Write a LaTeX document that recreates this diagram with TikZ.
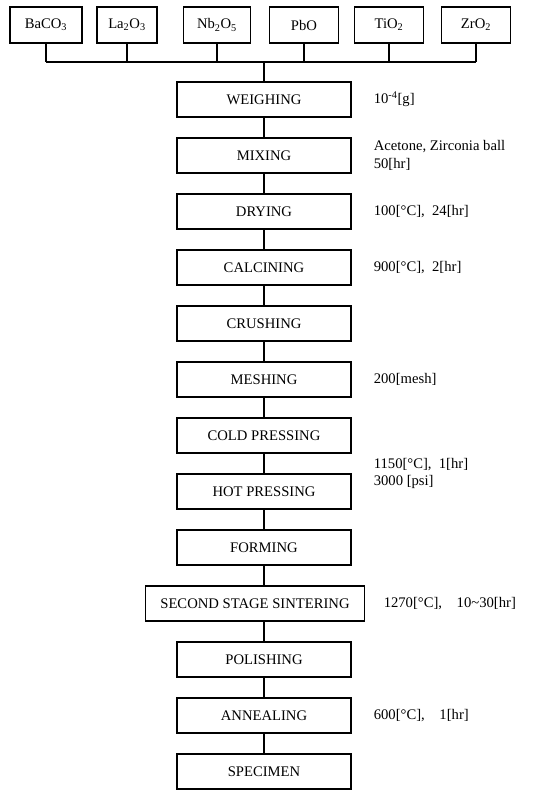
\documentclass[tikz,border=0pt]{standalone}
\usepackage{fontspec}
\setmainfont{Liberation Serif}
\usepackage{tikz}
\usetikzlibrary{positioning}
\newcommand{\txtfont}{\fontsize{12.5}{15}\selectfont}
\tikzset{
  ln/.style={line width=1pt},
  box/.style={draw,line width=1pt,minimum width=5.22cm,minimum height=1.05cm,inner xsep=0.45cm,inner ysep=0pt,font=\txtfont},
  src/.style={draw,line width=1pt,minimum height=1.08cm,inner sep=0pt,font=\txtfont},
  note/.style={align=left,inner sep=0pt,font=\txtfont}
}

\begin{document}
\begin{tikzpicture}[x=0.03cm,y=-0.03cm]
\useasboundingbox (0,0) rectangle (548,790);
% raw materials
\foreach \t/\x/\w [count=\i] in {BaCO\textsubscript{3}/46/72,La\textsubscript{2}O\textsubscript{3}/127/60,Nb\textsubscript{2}O\textsubscript{5}/217/67,PbO/304/69,TiO\textsubscript{2}/389/69,ZrO\textsubscript{2}/476/69}
  \node[src,minimum width=\w*0.03cm] (t\i) at (\x,25) {\t};
\coordinate (bus) at (264,62);
\foreach \i in {1,...,6}{\draw[ln] (t\i.south) -- (t\i.south |- bus);}
\draw[ln] (t1.south |- bus) -- (t6.south |- bus);
% process steps
\foreach \t/\dx [count=\i] in {WEIGHING/0,MIXING/0,DRYING/0,CALCINING/0,CRUSHING/0,MESHING/0,COLD PRESSING/0,HOT PRESSING/0,FORMING/0,SECOND STAGE SINTERING/-9,POLISHING/0,ANNEALING/0,SPECIMEN/0}
  \node[box] (s\i) at ({264+\dx},{99.5+56*(\i-1)}) {\t};
\draw[ln] (bus) -- (s1.north);
\foreach \i [evaluate=\i as \j using int(\i+1)] in {1,...,12}{\draw[ln] (s\i.south -| s1) -- (s\j.north -| s1);}
% conditions
\node[note,right=0.66cm of s1] (c1) {10\textsuperscript{-4}[g]};
\node[note,right=0.66cm of s2] (c2) {Acetone, Zirconia ball\\50[hr]};
\node[note,right=0.66cm of s3] (c3) {100[°C],\enspace 24[hr]};
\node[note,right=0.66cm of s4] (c4) {900[°C],\enspace 2[hr]};
\node[note,right=0.66cm of s6] (c6) {200[mesh]};
\node[note,right=0.66cm of s8.north east] (c8) {1150[°C],\enspace 1[hr]\\3000 [psi]};
\node[note,right=0.55cm of s10] (c10) {1270[°C],\quad 10\textasciitilde 30[hr]};
\node[note,right=0.66cm of s12] (c12) {600[°C],\quad 1[hr]};
\end{tikzpicture}
\end{document}
